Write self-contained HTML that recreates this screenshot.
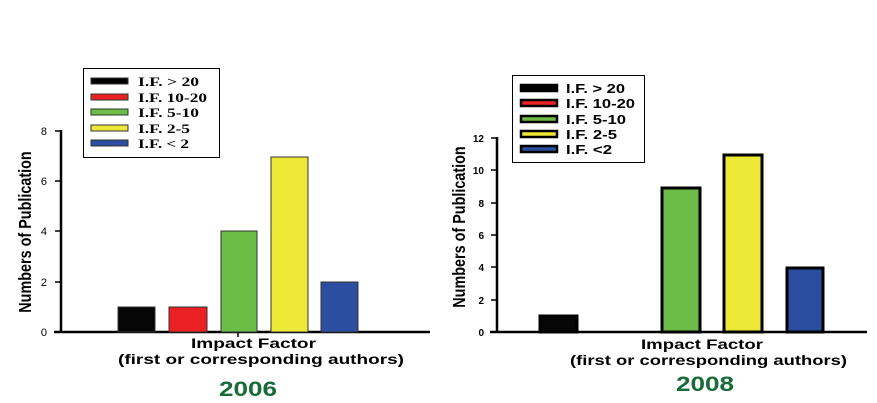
<!DOCTYPE html>
<html><head><style>
html,body{margin:0;padding:0;background:#fff;width:877px;height:403px;overflow:hidden}
</style></head><body>
<svg width="877" height="403" xmlns="http://www.w3.org/2000/svg" font-family="Liberation Sans, sans-serif">
<!-- Chart 1 -->
<g>
<line x1="61" y1="130" x2="61" y2="333" stroke="#000" stroke-width="2.5"/>
<line x1="54" y1="332" x2="430" y2="332" stroke="#000" stroke-width="2.5"/>
<g stroke="#000" stroke-width="1.5">
<line x1="55" y1="131" x2="61" y2="131"/><line x1="55" y1="181" x2="61" y2="181"/>
<line x1="55" y1="231" x2="61" y2="231"/><line x1="55" y1="282" x2="61" y2="282"/>
<line x1="238" y1="332" x2="238" y2="337"/>
</g>
<g font-size="11" text-anchor="end" fill="#000">
<text x="47" y="135">8</text><text x="47" y="185">6</text><text x="47" y="235">4</text>
<text x="47" y="286">2</text><text x="47" y="336">0</text>
</g>
<text transform="translate(31,232) rotate(-90) scale(0.8,1)" text-anchor="middle" font-size="18" font-weight="bold">Numbers of Publication</text>
<g stroke="#333" stroke-width="1">
<rect x="118" y="307" width="37" height="25" fill="#060606"/>
<rect x="169" y="307" width="38" height="25" fill="#ea2226"/>
<rect x="221" y="231" width="36" height="101" fill="#6cbd45"/>
<rect x="271" y="157" width="37" height="175" fill="#ede836"/>
<rect x="321" y="282" width="37" height="50" fill="#2b4ea0"/>
</g>
<rect x="83.5" y="68.5" width="136" height="89" fill="#fff" stroke="#000" stroke-width="1"/>
<g stroke="#333" stroke-width="1">
<rect x="91" y="78" width="37" height="6" fill="#000"/>
<rect x="91" y="94" width="37" height="6" fill="#ea2226"/>
<rect x="91" y="109" width="37" height="6" fill="#6cbd45"/>
<rect x="91" y="125" width="37" height="6" fill="#ede836"/>
<rect x="91" y="140" width="37" height="6" fill="#2b4ea0"/>
</g>
<g font-family="Liberation Serif, serif" font-size="13" font-weight="bold" lengthAdjust="spacingAndGlyphs">
<text x="138" y="86" textLength="61" lengthAdjust="spacingAndGlyphs">I.F. &gt; 20</text>
<text x="138" y="102" textLength="69" lengthAdjust="spacingAndGlyphs">I.F. 10-20</text>
<text x="138" y="117" textLength="61" lengthAdjust="spacingAndGlyphs">I.F. 5-10</text>
<text x="138" y="133" textLength="52" lengthAdjust="spacingAndGlyphs">I.F. 2-5</text>
<text x="138" y="148" textLength="51" lengthAdjust="spacingAndGlyphs">I.F. &lt; 2</text>
</g>
<text x="191" y="348" font-size="14" font-weight="bold" textLength="125" lengthAdjust="spacingAndGlyphs">Impact Factor</text>
<text x="118" y="364" font-size="14" font-weight="bold" textLength="286" lengthAdjust="spacingAndGlyphs">(first or corresponding authors)</text>
<text x="219" y="396" font-size="21" font-weight="bold" fill="#1a6b3a" textLength="58" lengthAdjust="spacingAndGlyphs">2006</text>
</g>
<!-- Chart 2 -->
<g>
<line x1="497" y1="137" x2="497" y2="333" stroke="#000" stroke-width="2.5"/>
<line x1="490" y1="332" x2="867" y2="332" stroke="#000" stroke-width="2.5"/>
<g stroke="#000" stroke-width="1.5">
<line x1="491" y1="138" x2="497" y2="138"/><line x1="491" y1="170" x2="497" y2="170"/>
<line x1="491" y1="203" x2="497" y2="203"/><line x1="491" y1="235" x2="497" y2="235"/>
<line x1="491" y1="267" x2="497" y2="267"/><line x1="491" y1="300" x2="497" y2="300"/>
</g>
<g font-size="10" font-weight="bold" text-anchor="end">
<text x="484" y="142">12</text><text x="484" y="174">10</text><text x="484" y="207">8</text>
<text x="484" y="239">6</text><text x="484" y="271">4</text><text x="484" y="304">2</text>
<text x="484" y="336">0</text>
</g>
<text transform="translate(465,227) rotate(-90) scale(0.8,1)" text-anchor="middle" font-size="18" font-weight="bold">Numbers of Publication</text>
<g stroke="#000" stroke-width="3">
<rect x="540" y="316" width="37" height="16" fill="#060606"/>
<rect x="662" y="188" width="38" height="144" fill="#6cbd45"/>
<rect x="724" y="155" width="38" height="177" fill="#ede836"/>
<rect x="787" y="268" width="36" height="64" fill="#2b4ea0"/>
</g>
<rect x="512.5" y="75.5" width="132" height="87" fill="#fff" stroke="#000" stroke-width="1"/>
<g stroke="#000" stroke-width="2.5">
<rect x="521" y="85" width="36" height="6" fill="#000"/>
<rect x="521" y="100" width="36" height="6" fill="#ea2226"/>
<rect x="521" y="116" width="36" height="6" fill="#6cbd45"/>
<rect x="521" y="131" width="36" height="6" fill="#ede836"/>
<rect x="521" y="146" width="36" height="6" fill="#2b4ea0"/>
</g>
<g font-size="13" font-weight="bold">
<text x="566" y="93" textLength="59" lengthAdjust="spacingAndGlyphs">I.F. &gt; 20</text>
<text x="566" y="108" textLength="69" lengthAdjust="spacingAndGlyphs">I.F. 10-20</text>
<text x="566" y="124" textLength="60" lengthAdjust="spacingAndGlyphs">I.F. 5-10</text>
<text x="566" y="139" textLength="51" lengthAdjust="spacingAndGlyphs">I.F. 2-5</text>
<text x="566" y="154" textLength="46" lengthAdjust="spacingAndGlyphs">I.F. &lt;2</text>
</g>
<text x="641" y="349" font-size="14" font-weight="bold" textLength="122" lengthAdjust="spacingAndGlyphs">Impact Factor</text>
<text x="570" y="365" font-size="14" font-weight="bold" textLength="277" lengthAdjust="spacingAndGlyphs">(first or corresponding authors)</text>
<text x="676" y="391" font-size="21" font-weight="bold" fill="#1a6b3a" textLength="58" lengthAdjust="spacingAndGlyphs">2008</text>
</g>
</svg>
</body></html>
